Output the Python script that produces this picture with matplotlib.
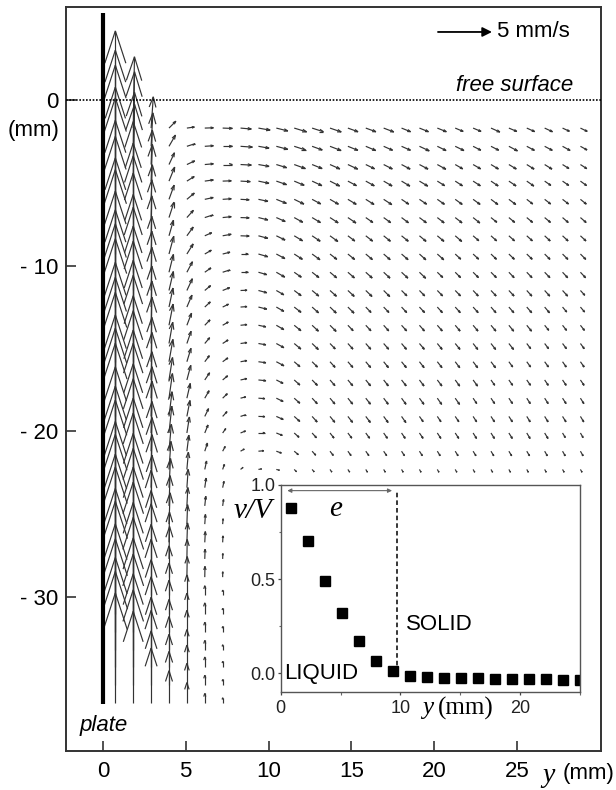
import numpy as np
import matplotlib
matplotlib.use("Agg")
import matplotlib.pyplot as plt
from matplotlib.collections import LineCollection

plt.rcParams['font.family'] = ['Liberation Sans', 'DejaVu Sans']

## PIV GRID (mm): columns measured from the plate, rows below the free surface
col_x = [0.75, 1.83, 2.91, 3.99, 5.07, 6.15, 7.23, 8.31, 9.39, 10.47, 11.55, 12.63, 13.71,
         14.79, 15.87, 16.95, 18.03, 19.11, 20.19, 21.27, 22.35, 23.43, 24.51, 25.59,
         26.67, 27.75, 28.83]
row_y_upper = [-1.7, -2.8, -3.9, -4.9, -6.0, -7.1, -8.2, -9.3, -10.4, -11.5, -12.5, -13.6,
               -14.7, -15.8, -16.9, -18.0, -19.1, -20.1, -21.2, -22.3]
# deep rows: only the columns next to the plate are measured there
row_y_lower = [-23.4, -24.5, -25.6, -26.7, -27.7, -28.8, -29.9, -31.0, -32.1, -33.2,
               -34.2, -35.3, -36.4]

# speed (mm/s), one row per depth
speed_upper = [
    [9.0, 6.6, 2.9, 0.9, 0.7, 0.8, 0.9, 1.0, 1.1, 1.1, 1.2, 1.1, 1.1, 1.0, 1.0, 1.0, 0.9, 0.9, 0.9, 0.8, 0.8, 0.9, 0.8, 0.8, 0.8, 0.7, 0.7],
    [8.9, 6.9, 3.1, 1.2, 0.8, 0.8, 0.9, 1.1, 1.0, 1.1, 1.1, 1.0, 1.1, 1.0, 1.0, 0.9, 0.9, 1.0, 0.9, 0.9, 0.8, 0.8, 0.9, 0.8, 0.8, 0.8, 0.7],
    [9.2, 6.7, 3.2, 1.2, 0.8, 0.8, 0.9, 1.0, 1.0, 1.0, 1.1, 1.0, 1.0, 1.0, 0.9, 0.9, 0.9, 0.9, 0.9, 0.8, 0.8, 0.8, 0.8, 0.8, 0.8, 0.7, 0.7],
    [8.7, 7.1, 3.4, 1.4, 0.8, 0.8, 0.8, 0.9, 1.0, 1.0, 1.0, 1.0, 1.0, 0.9, 0.9, 0.9, 0.9, 0.9, 0.8, 0.8, 0.8, 0.8, 0.8, 0.8, 0.7, 0.7, 0.7],
    [9.4, 7.2, 3.2, 1.4, 0.9, 0.8, 0.8, 0.8, 0.9, 1.0, 1.0, 0.9, 0.9, 0.9, 0.9, 0.9, 0.8, 0.8, 0.8, 0.8, 0.8, 0.8, 0.8, 0.7, 0.7, 0.7, 0.7],
    [9.0, 6.9, 3.5, 1.5, 0.9, 0.8, 0.8, 0.8, 0.9, 0.9, 0.9, 0.9, 0.9, 0.9, 0.8, 0.8, 0.8, 0.8, 0.8, 0.8, 0.8, 0.7, 0.7, 0.7, 0.7, 0.7, 0.7],
    [9.2, 7.4, 3.7, 1.5, 1.0, 0.7, 0.8, 0.8, 0.9, 0.9, 0.9, 0.9, 0.9, 0.8, 0.8, 0.8, 0.8, 0.8, 0.8, 0.8, 0.7, 0.7, 0.7, 0.7, 0.7, 0.7, 0.7],
    [8.9, 7.5, 3.5, 1.7, 1.1, 0.7, 0.7, 0.7, 0.9, 0.9, 0.9, 0.9, 0.8, 0.8, 0.8, 0.8, 0.8, 0.8, 0.8, 0.7, 0.7, 0.7, 0.7, 0.7, 0.7, 0.7, 0.7],
    [9.5, 7.2, 3.8, 1.7, 1.1, 0.7, 0.7, 0.7, 0.8, 0.9, 0.8, 0.8, 0.8, 0.8, 0.8, 0.8, 0.8, 0.8, 0.7, 0.7, 0.7, 0.7, 0.7, 0.7, 0.7, 0.7, 0.7],
    [9.2, 7.7, 4.0, 1.8, 1.2, 0.7, 0.7, 0.6, 0.8, 0.8, 0.8, 0.8, 0.8, 0.8, 0.8, 0.8, 0.7, 0.7, 0.7, 0.7, 0.7, 0.7, 0.7, 0.7, 0.7, 0.7, 0.6],
    [9.0, 7.5, 3.8, 1.8, 1.2, 0.7, 0.6, 0.6, 0.8, 0.8, 0.8, 0.8, 0.8, 0.8, 0.7, 0.7, 0.7, 0.7, 0.7, 0.7, 0.7, 0.7, 0.7, 0.7, 0.7, 0.6, 0.6],
    [9.4, 7.8, 4.1, 2.0, 1.2, 0.7, 0.6, 0.6, 0.7, 0.8, 0.8, 0.8, 0.8, 0.7, 0.7, 0.7, 0.7, 0.7, 0.7, 0.7, 0.7, 0.7, 0.7, 0.7, 0.6, 0.6, 0.6],
    [9.7, 7.7, 4.3, 2.0, 1.2, 0.7, 0.6, 0.6, 0.7, 0.8, 0.8, 0.8, 0.7, 0.7, 0.7, 0.7, 0.7, 0.7, 0.7, 0.7, 0.7, 0.7, 0.7, 0.6, 0.6, 0.6, 0.6],
    [9.2, 8.0, 4.1, 2.1, 1.3, 0.7, 0.6, 0.6, 0.7, 0.8, 0.7, 0.7, 0.7, 0.7, 0.7, 0.7, 0.7, 0.7, 0.7, 0.7, 0.7, 0.7, 0.6, 0.6, 0.6, 0.6, 0.6],
    [9.5, 7.8, 4.4, 2.1, 1.4, 0.8, 0.6, 0.6, 0.7, 0.7, 0.7, 0.7, 0.7, 0.7, 0.7, 0.7, 0.7, 0.7, 0.7, 0.7, 0.7, 0.6, 0.6, 0.6, 0.6, 0.6, 0.6],
    [9.8, 8.1, 4.3, 2.3, 1.4, 0.8, 0.6, 0.5, 0.6, 0.7, 0.7, 0.7, 0.7, 0.7, 0.7, 0.7, 0.7, 0.7, 0.7, 0.7, 0.6, 0.6, 0.6, 0.6, 0.6, 0.6, 0.6],
    [9.4, 8.0, 4.6, 2.3, 1.5, 0.8, 0.6, 0.5, 0.6, 0.7, 0.7, 0.7, 0.7, 0.7, 0.7, 0.7, 0.7, 0.6, 0.6, 0.6, 0.6, 0.6, 0.6, 0.6, 0.6, 0.6, 0.6],
    [9.7, 8.3, 4.8, 2.5, 1.5, 0.8, 0.5, 0.5, 0.6, 0.6, 0.6, 0.6, 0.6, 0.6, 0.6, 0.6, 0.6, 0.6, 0.6, 0.6, 0.6, 0.6, 0.6, 0.6, 0.6, 0.5, 0.5],
    [10.0, 8.1, 4.6, 2.5, 1.5, 0.8, 0.5, 0.4, 0.5, 0.5, 0.5, 0.5, 0.5, 0.5, 0.5, 0.5, 0.5, 0.5, 0.5, 0.5, 0.5, 0.5, 0.5, 0.5, 0.5, 0.5, 0.5],
    [9.5, 8.4, 4.8, 2.6, 1.6, 0.8, 0.5, 0.3, 0.3, 0.3, 0.3, 0.3, 0.3, 0.3, 0.3, 0.3, 0.3, 0.3, 0.3, 0.3, 0.3, 0.3, 0.3, 0.3, 0.3, 0.3, 0.3],
]
# direction (degrees from the +y axis of the plot, counter-clockwise)
angle_upper = [
    [90, 89, 86, 45, 8, 2, -2, -5, -10, -14, -17, -18, -19, -20, -20, -21, -22, -22, -22, -23, -23, -24, -23, -24, -25, -25, -26],
    [90, 89, 87, 60, 18, 4, 0, -4, -10, -15, -18, -20, -21, -22, -23, -24, -24, -25, -26, -26, -27, -27, -28, -28, -28, -29, -29],
    [90, 89, 88, 65, 25, 5, 0, -3, -10, -17, -20, -22, -24, -25, -26, -27, -28, -28, -29, -30, -30, -31, -31, -32, -32, -32, -33],
    [90, 89, 88, 68, 32, 8, 2, -3, -12, -19, -23, -25, -27, -28, -29, -30, -31, -31, -32, -33, -33, -34, -34, -35, -35, -35, -36],
    [90, 90, 88, 70, 40, 12, 4, -3, -12, -22, -26, -28, -30, -31, -32, -33, -34, -34, -35, -36, -36, -37, -37, -38, -38, -38, -39],
    [90, 90, 89, 72, 48, 18, 6, -2, -14, -24, -29, -31, -33, -34, -35, -36, -37, -37, -38, -38, -39, -39, -40, -40, -40, -41, -41],
    [90, 90, 89, 74, 54, 24, 10, -2, -15, -26, -31, -34, -36, -37, -38, -39, -39, -40, -40, -41, -41, -42, -42, -42, -43, -43, -43],
    [90, 90, 89, 75, 58, 30, 14, 0, -16, -28, -33, -36, -38, -39, -40, -41, -41, -42, -42, -43, -43, -44, -44, -44, -45, -45, -45],
    [90, 90, 89, 76, 62, 35, 18, 0, -16, -30, -35, -38, -40, -41, -42, -43, -43, -44, -44, -45, -45, -45, -46, -46, -46, -47, -47],
    [90, 90, 89, 77, 65, 40, 22, 2, -15, -30, -37, -40, -42, -43, -44, -45, -45, -46, -46, -46, -47, -47, -47, -48, -48, -48, -48],
    [90, 90, 89, 78, 67, 43, 26, 4, -14, -30, -38, -42, -44, -45, -46, -46, -47, -47, -48, -48, -48, -49, -49, -49, -50, -50, -50],
    [90, 90, 89, 79, 69, 46, 30, 6, -12, -30, -39, -43, -45, -46, -47, -48, -48, -49, -49, -50, -50, -50, -51, -51, -51, -52, -52],
    [90, 90, 89, 80, 71, 50, 33, 8, -10, -29, -40, -44, -46, -48, -49, -49, -50, -50, -51, -51, -52, -52, -52, -53, -53, -53, -54],
    [90, 90, 89, 80, 73, 53, 36, 10, -8, -28, -41, -45, -48, -49, -50, -51, -51, -52, -52, -53, -53, -53, -54, -54, -54, -55, -55],
    [90, 90, 89, 81, 75, 56, 40, 12, -6, -27, -42, -46, -49, -50, -51, -52, -52, -53, -53, -54, -54, -55, -55, -55, -56, -56, -56],
    [90, 90, 89, 82, 77, 60, 44, 14, -4, -26, -42, -47, -50, -51, -52, -53, -54, -54, -55, -55, -56, -56, -56, -57, -57, -57, -58],
    [90, 90, 89, 83, 79, 64, 48, 18, -2, -24, -42, -48, -51, -52, -53, -54, -55, -55, -56, -56, -57, -57, -57, -58, -58, -58, -59],
    [90, 90, 89, 84, 81, 68, 55, 22, 0, -22, -42, -48, -52, -53, -54, -55, -56, -56, -57, -57, -58, -58, -58, -59, -59, -59, -60],
    [90, 90, 89, 85, 83, 72, 62, 30, 5, -20, -40, -48, -52, -54, -55, -56, -57, -57, -58, -58, -58, -59, -59, -59, -60, -60, -60],
    [90, 90, 89, 86, 85, 78, 72, 40, 10, -15, -45, -50, -55, -56, -58, -58, -59, -60, -60, -60, -60, -60, -60, -60, -60, -60, -60],
]
speed_lower = [
    [9.4, 8.3, 4.9, 2.7, 1.7, 0.9, 0.6],
    [9.8, 8.6, 4.7, 2.8, 1.7, 0.9, 0.6],
    [9.5, 8.4, 5.0, 2.9, 1.8, 0.9, 0.5],
    [10.0, 8.7, 4.8, 2.8, 1.8, 1.0, 0.6],
    [9.7, 8.5, 5.1, 3.0, 1.8, 0.9, 0.5],
    [10.2, 8.8, 4.9, 2.9, 1.9, 1.0, 0.5],
    [9.9, 8.6, 5.2, 3.0, 1.9, 0.9, 0.5],
    [10.4, 8.9, 5.0, 3.1, 1.9, 1.0, 0.5],
    [10.0, 8.7, 5.1, 3.0, 2.0, 0.9, 0.5],
    [10.3, 8.9, 4.9, 3.1, 1.9, 0.9, 0.5],
    [10.1, 8.6, 5.2, 3.0, 2.0, 0.9, 0.5],
    [10.5, 8.8, 5.0, 3.1, 2.0, 0.9, 0.5],
    [10.2, 8.5, 5.1, 3.0, 1.9, 0.9, 0.5],
]
angle_lower = [
    [90, 90, 89, 87, 86, 82, 78],
    [90, 90, 89, 88, 87, 84, 82],
    [90, 90, 90, 88, 88, 86, 85],
    [90, 90, 90, 89, 88, 87, 87],
    [90, 90, 90, 89, 89, 88, 88],
    [90, 90, 90, 90, 89, 89, 89],
    [90, 90, 90, 90, 90, 90, 90],
    [90, 90, 90, 90, 90, 90, 90],
    [90, 90, 90, 90, 90, 90, 90],
    [90, 90, 90, 90, 90, 90, 90],
    [90, 90, 90, 90, 90, 90, 90],
    [90, 90, 90, 90, 90, 90, 90],
    [90, 90, 90, 90, 90, 90, 90],
]

# plate and reference arrow
plate_top, plate_bottom = 5.25, -36.45
ref_speed = 5.0          # mm/s
scale = 3.26 / ref_speed  # plot mm per mm/s

## INSET: v/V profile
prof_y = [0.86, 2.28, 3.70, 5.12, 6.54, 7.96, 9.38, 10.80, 12.22, 13.64, 15.06, 16.48,
          17.90, 19.32, 20.74, 22.16, 23.58, 25.00]
prof_v = [0.88, 0.70, 0.49, 0.32, 0.17, 0.065, 0.01, -0.015, -0.02, -0.025, -0.027, -0.028,
          -0.03, -0.03, -0.032, -0.033, -0.035, -0.036]
e_thick = 9.75


def arrow_segments(xs, ys, speed, angle):
    # open-headed arrows, head size proportional to the arrow length
    X, Y = np.meshgrid(xs, ys)
    L = np.asarray(speed, float) * scale
    th = np.radians(np.asarray(angle, float))
    tx = X + L * np.cos(th)
    ty = Y + L * np.sin(th)
    hl = 0.35 * L
    phi = np.radians(18)
    tip = np.c_[tx.ravel(), ty.ravel()]
    tail = np.c_[X.ravel(), Y.ravel()]
    h1 = np.c_[(tx - hl * np.cos(th - phi)).ravel(), (ty - hl * np.sin(th - phi)).ravel()]
    h2 = np.c_[(tx - hl * np.cos(th + phi)).ravel(), (ty - hl * np.sin(th + phi)).ravel()]
    return np.concatenate([np.stack([tail, tip], 1),
                           np.stack([tip, h1], 1),
                           np.stack([tip, h2], 1)])


fig = plt.figure(figsize=(6.16, 7.9), dpi=100)
ax = fig.add_axes([0.1071, 0.0494, 0.8685, 0.9418])
ax.set_xlim(-2.23, 30.07)
ax.set_ylim(-39.29, 5.61)

segs = np.concatenate([arrow_segments(col_x, row_y_upper, speed_upper, angle_upper),
                       arrow_segments(col_x[:7], row_y_lower, speed_lower, angle_lower)])
ax.add_collection(LineCollection(segs, colors='#333333', linewidths=0.85, zorder=2))

ax.plot([0, 0], [plate_bottom, plate_top], color='k', lw=3, solid_capstyle='butt', zorder=3)
ax.axhline(0, color='k', lw=1.2, ls=(0, (1, 1)), zorder=4)

# reference arrow
ax.annotate('', xy=(20.23 + ref_speed * scale, 4.1), xytext=(20.23, 4.1),
            arrowprops=dict(arrowstyle='-|>', color='k', lw=1.3, mutation_scale=14,
                            shrinkA=0, shrinkB=0))
ax.text(23.8, 4.1, '5 mm/s', fontsize=16, ha='left', va='center')
ax.text(28.4, 0.55, 'free surface', fontsize=16, style='italic', ha='right', va='baseline')
ax.text(-1.4, -38.1, 'plate', fontsize=16, style='italic', ha='left', va='baseline')

ax.set_xticks([0, 5, 10, 15, 20, 25])
ax.set_yticks([0, -10, -20, -30])
ax.set_yticklabels(['0', '- 10', '- 20', '- 30'])
ax.tick_params(direction='in', length=7, width=1.2, labelsize=16, color='#333')
ax.tick_params(axis='x', pad=7.5)
ax.tick_params(axis='y', pad=5.5)
for s in ax.spines.values():
    s.set_linewidth(1.4)
    s.set_color('#333')
ax.text(-2.6, -1.87, '(mm)', fontsize=16, ha='right', va='center', clip_on=False)
fig.text(548 / 616, 1 - 775 / 790, 'y', family='Liberation Serif', style='italic',
         fontsize=20, ha='center', va='center')
fig.text(563 / 616, 1 - 773 / 790, '(mm)', fontsize=16, ha='left', va='center')

## INSET
axi = fig.add_axes([0.4557, 0.1241, 0.4859, 0.2620])
axi.set_facecolor('white')
axi.plot(prof_y, prof_v, 's', color='k', ms=6.5)
axi.set_xlim(0, 25)
axi.set_ylim(-0.1, 1.0)
axi.set_xticks([0, 10, 20])
axi.set_xticks([5, 15, 25], minor=True)
axi.set_yticks([0.0, 0.5, 1.0])
axi.set_yticklabels(['0.0', '0.5', '1.0'])
axi.set_yticks([0.25, 0.75], minor=True)
axi.tick_params(which='major', direction='out', length=2.5, width=0.9, labelsize=13,
                color='#444', labelcolor='#222')
axi.tick_params(which='minor', direction='out', length=1.8, width=0.8, color='#666')
axi.tick_params(axis='x', pad=3.5)
axi.tick_params(axis='y', pad=1.5)
for s in axi.spines.values():
    s.set_linewidth(1.0)
    s.set_color('#555')

axi.plot([e_thick, e_thick], [0.0, 0.97], color='k', lw=1.1, ls=(0, (3, 2)))
axi.annotate('', xy=(0.55, 0.97), xytext=(e_thick - 0.45, 0.97),
             arrowprops=dict(arrowstyle='<|-|>', color='#666', lw=0.8, mutation_scale=6,
                             shrinkA=0, shrinkB=0))
axi.text(4.6, 0.875, 'e', family='Liberation Serif', style='italic', fontsize=21,
         ha='center', va='center')
axi.text(-2.3, 0.86, 'v/V', family='Liberation Serif', style='italic', fontsize=21,
         ha='center', va='center', clip_on=False)
axi.text(10.5, 0.26, 'SOLID', fontsize=16, ha='left', va='center')
axi.text(0.3, 0.0, 'LIQUID', fontsize=16, ha='left', va='center')
axi.text(11.85, -0.186, 'y', family='Liberation Serif', style='italic', fontsize=18,
         ha='left', va='center', clip_on=False)
axi.text(13.1, -0.186, '(mm)', family='Liberation Serif', fontsize=18,
         ha='left', va='center', clip_on=False)

fig.savefig('out.png', dpi=100)
